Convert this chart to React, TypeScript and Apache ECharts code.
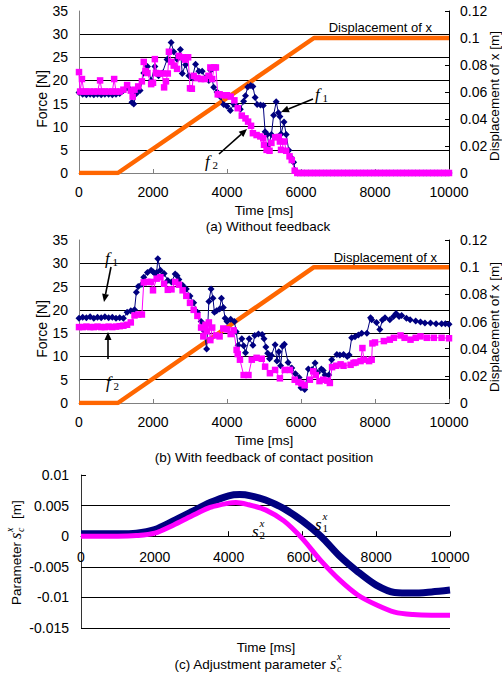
import React, { useEffect, useRef } from "react";
import * as echarts from "echarts";

// ---------- data ----------
// Panel (a): without feedback  [time ms, force N]
const f1A: number[][] = [
  [0, 17.4], [100, 17.0], [200, 16.9], [300, 17.0], [400, 16.9], [500, 17.0], [600, 16.9], [700, 17.0],
  [800, 17.0], [900, 16.9], [1000, 17.0], [1100, 17.2], [1200, 17.8], [1300, 18.6], [1380, 18.0],
  [1430, 15.3], [1480, 14.9], [1550, 17.2], [1650, 17.8], [1750, 21.6], [1850, 23.0], [1950, 20.0],
  [2050, 23.0], [2150, 21.0], [2250, 21.6], [2380, 24.5], [2490, 28.2], [2560, 26.2], [2650, 24.6],
  [2740, 26.7], [2790, 21.5], [2880, 23.4], [2970, 21.0], [3060, 20.5], [3150, 23.5], [3240, 22.0],
  [3330, 22.0], [3420, 20.5], [3510, 20.0], [3560, 22.2], [3640, 18.5], [3730, 17.5], [3820, 16.5],
  [3910, 14.8], [4000, 14.4], [4090, 13.5], [4180, 14.9], [4270, 14.4], [4360, 13.8], [4450, 15.5],
  [4500, 16.7], [4560, 18.6], [4640, 18.9], [4700, 18.7], [4760, 16.3], [4815, 14.8], [4905, 14.7],
  [4980, 14.6], [5030, 8.9], [5090, 8.3], [5130, 6.1], [5200, 8.3], [5260, 12.5], [5330, 15.4],
  [5390, 13.0], [5430, 12.2], [5460, 8.4], [5540, 11.0], [5600, 8.3], [5670, 4.9], [5750, 3.2],
  [5800, 2.3], [5850, 0.5], [5900, 0],
];
const f2A: number[][] = [
  [0, 21.8], [30, 17.6], [80, 20.3], [130, 17.6], [200, 17.6], [300, 17.6], [400, 17.6], [500, 17.6],
  [570, 20.0], [620, 17.6], [700, 17.6], [800, 17.6], [900, 17.6], [950, 20.3], [1000, 17.6],
  [1100, 17.6], [1200, 18.0], [1300, 19.0], [1400, 17.8], [1450, 16.5], [1500, 18.0], [1600, 18.7],
  [1700, 19.8], [1750, 24.0], [1800, 22.0], [1850, 21.6], [1950, 19.2], [2000, 19.5], [2050, 24.6],
  [2080, 21.6], [2150, 21.5], [2250, 21.5], [2300, 18.5], [2350, 19.8], [2400, 21.5], [2430, 26.2],
  [2500, 24.0], [2560, 23.2], [2650, 22.5], [2700, 25.3], [2800, 25.0], [2870, 24.5], [2950, 25.0],
  [3000, 18.3], [3050, 18.2], [3100, 21.0], [3200, 20.5], [3300, 20.3], [3400, 20.3], [3500, 21.0],
  [3550, 22.8], [3600, 20.3], [3650, 22.8], [3700, 22.8], [3750, 17.0], [3800, 17.0], [3900, 16.8],
  [4000, 16.8], [4100, 16.5], [4200, 15.7], [4290, 14.0], [4400, 12.4], [4500, 11.8], [4570, 11.1],
  [4650, 10.2], [4700, 8.6], [4800, 8.2], [4900, 7.9], [4980, 7.5], [5000, 6.1], [5070, 5.0],
  [5150, 4.8], [5200, 6.5], [5300, 7.7], [5400, 7.8], [5430, 6.8], [5460, 5.0], [5550, 6.8],
  [5600, 4.8], [5690, 3.6], [5750, 2.8], [5830, 0.5], [5900, 0],
];
const zeroTailA: number[][] = [
  [6000, 0], [6100, 0], [6200, 0], [6300, 0], [6400, 0], [6500, 0], [6600, 0], [6700, 0], [6800, 0],
  [6900, 0], [7000, 0], [7100, 0], [7200, 0], [7300, 0], [7400, 0], [7500, 0], [7600, 0], [7700, 0],
  [7800, 0], [7900, 0], [8000, 0], [8100, 0], [8200, 0], [8300, 0], [8400, 0], [8500, 0], [8600, 0],
  [8700, 0], [8800, 0], [8900, 0], [9000, 0], [9100, 0], [9200, 0], [9300, 0], [9400, 0], [9500, 0],
  [9600, 0], [9700, 0], [9800, 0], [9900, 0], [10000, 0],
];
// displacement of x [m] (same trajectory in both experiments)
const dispX: number[][] = [[0, 0], [1050, 0], [6350, 0.1], [10000, 0.1]];

// Panel (b): with feedback of contact position
const f1B: number[][] = [
  [0, 18.2], [100, 18.4], [200, 18.3], [300, 18.5], [400, 18.2], [500, 18.4], [600, 18.3], [700, 18.5],
  [800, 18.3], [900, 18.4], [1000, 18.2], [1100, 18.3], [1200, 18.2], [1300, 19.5], [1400, 19.8],
  [1500, 20.0], [1550, 23.8], [1600, 25.0], [1700, 25.5], [1750, 27.0], [1850, 28.0], [1950, 28.5],
  [2000, 28.2], [2050, 27.8], [2100, 28.0], [2130, 31.0], [2200, 28.5], [2300, 27.8], [2400, 26.3],
  [2500, 26.0], [2600, 27.7], [2650, 27.3], [2700, 26.5], [2800, 25.3], [2900, 24.5], [3000, 23.0],
  [3100, 21.5], [3200, 19.5], [3300, 17.5], [3380, 15.5], [3450, 11.6], [3510, 21.8], [3570, 24.5],
  [3620, 22.5], [3660, 19.5], [3720, 19.8], [3800, 20.2], [3850, 22.5], [3900, 20.5], [3950, 18.2],
  [4000, 17.5], [4100, 18.0], [4200, 17.5], [4250, 15.3], [4300, 12.4], [4400, 13.8], [4450, 12.3],
  [4500, 10.8], [4600, 13.8], [4700, 12.4], [4750, 14.5], [4850, 14.8], [4950, 14.7], [5000, 13.8],
  [5050, 12.0], [5100, 10.7], [5150, 9.5], [5200, 10.2], [5300, 12.5], [5350, 9.0], [5400, 11.0],
  [5450, 8.0], [5500, 12.2], [5550, 12.6], [5650, 8.7], [5750, 7.5], [5850, 6.3], [5950, 5.5],
  [6000, 3.3], [6100, 2.9], [6200, 7.3], [6300, 7.2], [6380, 8.6], [6450, 6.5], [6550, 7.3],
  [6600, 7.0], [6650, 6.0], [6750, 6.0], [6830, 9.3], [6970, 10.4], [7050, 10.3], [7150, 10.4],
  [7250, 10.0], [7300, 10.3], [7370, 14.0], [7460, 14.2], [7550, 14.6], [7640, 15.0], [7780, 15.0],
  [7880, 18.3], [7910, 17.9], [8040, 17.3], [8130, 15.8], [8200, 17.8], [8270, 18.3], [8400, 17.9],
  [8500, 18.6], [8570, 19.2], [8650, 18.6], [8720, 18.8], [8850, 18.2], [8950, 17.9], [9100, 17.6],
  [9230, 17.4], [9350, 17.2], [9500, 17.2], [9650, 17.0], [9800, 17.0], [9900, 17.0], [10000, 16.9],
];
const f2B: number[][] = [
  [0, 16.3], [100, 16.3], [200, 16.4], [300, 16.3], [400, 16.3], [500, 16.4], [600, 16.3], [700, 16.3],
  [800, 16.4], [900, 16.3], [1000, 16.4], [1100, 16.5], [1200, 16.6], [1300, 16.8], [1400, 17.3],
  [1500, 18.8], [1600, 19.0], [1700, 19.0], [1750, 25.9], [1850, 26.0], [1950, 26.0], [2000, 24.2],
  [2100, 26.7], [2200, 27.0], [2300, 25.6], [2400, 24.3], [2500, 24.4], [2600, 26.0], [2700, 25.4],
  [2800, 24.2], [2900, 23.0], [3000, 21.5], [3100, 20.0], [3200, 18.7], [3300, 16.2], [3360, 14.3],
  [3420, 16.8], [3450, 15.4], [3510, 17.3], [3550, 13.5], [3600, 16.2], [3700, 14.5], [3800, 14.3],
  [3900, 16.0], [4000, 15.8], [4100, 14.8], [4180, 15.6], [4260, 11.4], [4290, 10.5], [4350, 9.3],
  [4450, 6.0], [4580, 6.0], [4670, 9.3], [4800, 9.7], [4940, 9.5], [5030, 7.8], [5160, 6.4],
  [5300, 7.1], [5430, 5.3], [5560, 7.1], [5700, 7.1], [5830, 5.0], [5930, 4.5], [6010, 4.2],
  [6100, 3.8], [6240, 5.0], [6330, 6.8], [6400, 6.0], [6500, 4.7], [6600, 5.0], [6710, 4.8],
  [6780, 4.3], [6840, 7.7], [6950, 8.0], [7070, 8.3], [7150, 8.0], [7340, 8.2], [7420, 8.6],
  [7475, 8.7], [7610, 9.0], [7660, 11.8], [7700, 9.3], [7840, 9.0], [7910, 9.3], [7930, 12.8],
  [8000, 13.0], [8240, 13.3], [8400, 13.6], [8510, 14.0], [8690, 14.5], [8800, 14.0], [8960, 13.6],
  [9100, 14.0], [9230, 14.3], [9400, 14.0], [9590, 14.0], [9800, 14.0], [10000, 13.9],
];

// Panel (c): adjustment parameter s_c^x [m]
const s1C: number[][] = [
  [0, 0.0004], [500, 0.0004], [1000, 0.0004], [1500, 0.0005], [2000, 0.0011], [2500, 0.0025],
  [3000, 0.004], [3500, 0.0055], [4000, 0.0066], [4300, 0.0068], [4600, 0.0066], [5000, 0.0059],
  [5500, 0.0045], [6000, 0.0025], [6500, 0.0], [7000, -0.0032], [7500, -0.0058], [8000, -0.008],
  [8500, -0.0092], [9000, -0.0093], [9500, -0.0091], [10000, -0.0088],
];
const s2C: number[][] = [
  [0, 0.0], [500, 0.0], [1000, 0.0], [1500, 0.0001], [2000, 0.0005], [2500, 0.0018], [3000, 0.0033],
  [3500, 0.0047], [4000, 0.0054], [4200, 0.0055], [4500, 0.0052], [5000, 0.0043], [5500, 0.0025],
  [6000, -0.0004], [6500, -0.004], [7000, -0.0071], [7500, -0.0096], [8000, -0.0112],
  [8500, -0.0124], [9000, -0.0128], [9500, -0.0129], [10000, -0.0129],
];

// ---------- styles ----------
const SANS = "'Liberation Sans', Arial, Helvetica, sans-serif";
const SERIF = "'Liberation Serif', 'Times New Roman', serif";
const NAVY = "#000080";
const MAGENTA = "#ff00ff";
const ORANGE = "#ff6600";
const LBL = { color: "#000", fontFamily: SANS, fontSize: 14 };
const plain = (v: number) => String(v);

function txt(text: string, x: number, y: number, opts: any = {}) {
  return {
    type: "text",
    x,
    y,
    rotation: opts.rotation || 0,
    z: 100,
    style: {
      text,
      fill: "#000",
      fontFamily: opts.serif ? SERIF : SANS,
      fontStyle: opts.italic ? "italic" : "normal",
      fontSize: opts.size || 13.5,
      align: opts.align || "center",
      verticalAlign: "middle",
    },
  };
}

function arrow(x1: number, y1: number, x2: number, y2: number) {
  const dx = x2 - x1, dy = y2 - y1;
  const L = Math.hypot(dx, dy);
  const ux = dx / L, uy = dy / L;
  const hl = 8, hw = 3.5;
  const bx = x2 - ux * hl, by = y2 - uy * hl;
  const nx = -uy, ny = ux;
  return [
    { type: "line", z: 100, shape: { x1, y1, x2: bx, y2: by }, style: { stroke: "#000", lineWidth: 1.6 } },
    {
      type: "polygon",
      z: 100,
      shape: { points: [[x2, y2], [bx + nx * hw, by + ny * hw], [bx - nx * hw, by - ny * hw]] },
      style: { fill: "#000" },
    },
  ];
}

function subLabel(letter: string, sub: string, x: number, y: number, sup?: string) {
  const els: any[] = [
    txt(letter, x, y, { serif: true, italic: true, size: 17, align: "left" }),
    txt(sub, x + 7.5, y + 4, { serif: true, size: 11, align: "left" }),
  ];
  if (sup) els.push(txt(sup, x + 7.5, y - 8, { serif: true, italic: true, size: 11, align: "left" }));
  return els;
}

function forceX(grid: number) {
  return {
    gridIndex: grid,
    type: "value",
    min: 0,
    max: 10000,
    interval: 2000,
    axisLine: { onZero: false, lineStyle: { color: "#808080", width: 1 } },
    axisTick: { inside: true, length: 4, lineStyle: { color: "#808080" } },
    axisLabel: { ...LBL, margin: 12, formatter: plain },
    splitLine: { show: false },
  };
}
function forceY(grid: number) {
  return {
    gridIndex: grid,
    type: "value",
    min: 0,
    max: 35,
    interval: 5,
    axisLine: { show: true, onZero: false, lineStyle: { color: "#808080" } },
    axisTick: { show: false },
    axisLabel: { ...LBL, margin: 11 },
    splitLine: { show: true, showMinLine: false, showMaxLine: false, lineStyle: { color: "#000", width: 1 } },
  };
}
function dispY(grid: number) {
  return {
    gridIndex: grid,
    type: "value",
    position: "right",
    min: 0,
    max: 0.12,
    interval: 0.02,
    axisLine: { show: true, onZero: false, lineStyle: { color: "#000" } },
    axisTick: { show: true, inside: true, length: 4, lineStyle: { color: "#000" } },
    axisLabel: { ...LBL, margin: 11, formatter: (v: number) => String(+v.toFixed(2)) },
    splitLine: { show: false },
  };
}

function forceSeries(data: number[][], xi: number, yi: number, navy: boolean) {
  return {
    type: "line",
    xAxisIndex: xi,
    yAxisIndex: yi,
    data,
    symbol: navy ? "diamond" : "rect",
    symbolSize: navy ? 7 : 6.5,
    showAllSymbol: true,
    lineStyle: { color: navy ? NAVY : MAGENTA, width: 1 },
    itemStyle: { color: navy ? NAVY : MAGENTA },
    z: navy ? 3 : 4,
  };
}
function dispSeries(xi: number, yi: number) {
  return {
    type: "line",
    xAxisIndex: xi,
    yAxisIndex: yi,
    data: dispX,
    symbol: "none",
    lineStyle: { color: ORANGE, width: 4.5 },
    z: 2,
  };
}

export default function App() {
  const ref = useRef<HTMLDivElement>(null);
  useEffect(() => {
    if (!ref.current) return;
    const chart = echarts.init(ref.current, null, { renderer: "svg" });
    const gridCHeight = 153;
    const option: any = {
      animation: false,
      backgroundColor: "#fff",
      grid: [
        { left: 79, top: 11, width: 370, height: 162 },
        { left: 79, top: 240, width: 370, height: 163 },
        { left: 81, top: 475, width: 369, height: gridCHeight },
      ],
      xAxis: [
        forceX(0),
        forceX(1),
        {
          gridIndex: 2,
          type: "value",
          min: 0,
          max: 10000,
          interval: 2000,
          position: "bottom",
          // the value axis crosses y = 0, which lies 3/5 of the way up the grid
          offset: -gridCHeight * 0.6,
          axisLine: { onZero: false, lineStyle: { color: "#000", width: 1 } },
          axisTick: { inside: true, length: 5, lineStyle: { color: "#000" } },
          axisLabel: { ...LBL, margin: 14, formatter: plain },
          splitLine: { show: false },
        },
      ],
      yAxis: [
        forceY(0),
        dispY(0),
        forceY(1),
        dispY(1),
        {
          gridIndex: 2,
          type: "value",
          min: -0.015,
          max: 0.01,
          interval: 0.005,
          axisLine: { show: true, onZero: false, lineStyle: { color: "#333" } },
          axisTick: { show: true, inside: true, length: 5, lineStyle: { color: "#000" } },
          axisLabel: { ...LBL, margin: 12, formatter: (v: number) => String(+v.toFixed(3)) },
          splitLine: { show: true, showMinLine: true, showMaxLine: false, lineStyle: { color: "#000", width: 1 } },
        },
      ],
      series: [
        dispSeries(0, 1),
        forceSeries(f1A.concat(zeroTailA), 0, 0, true),
        forceSeries(f2A.concat(zeroTailA), 0, 0, false),
        dispSeries(1, 3),
        forceSeries(f1B, 1, 2, true),
        forceSeries(f2B, 1, 2, false),
        {
          type: "line",
          xAxisIndex: 2,
          yAxisIndex: 4,
          data: s1C,
          smooth: 0.3,
          symbol: "none",
          lineStyle: { color: NAVY, width: 7 },
          z: 3,
        },
        {
          type: "line",
          xAxisIndex: 2,
          yAxisIndex: 4,
          data: s2C,
          smooth: 0.3,
          symbol: "none",
          lineStyle: { color: MAGENTA, width: 5 },
          z: 4,
        },
      ],
      graphic: [
        // panel (a)
        txt("Force [N]", 42, 99, { rotation: Math.PI / 2, size: 14 }),
        txt("Displacement of x [m]", 494, 96, { rotation: Math.PI / 2, size: 13.5 }),
        txt("Displacement of x", 432, 27, { align: "right", size: 13 }),
        txt("Time [ms]", 264, 210, { size: 13.5 }),
        txt("(a) Without feedback", 268, 226, { size: 13.5 }),
        ...subLabel("f", "1", 315, 94),
        ...subLabel("f", "2", 205, 161),
        ...arrow(313, 99, 281, 112),
        ...arrow(219, 154, 247, 129),
        // panel (b)
        txt("Force [N]", 42, 329, { rotation: Math.PI / 2, size: 14 }),
        txt("Displacement of x [m]", 494, 327, { rotation: Math.PI / 2, size: 13.5 }),
        txt("Displacement of x", 437, 257, { align: "right", size: 13 }),
        txt("Time [ms]", 264, 440, { size: 13.5 }),
        txt("(b) With feedback of contact position", 264, 457, { size: 13.5 }),
        ...subLabel("f", "1", 105, 258),
        ...subLabel("f", "2", 106, 382),
        ...arrow(111, 267, 104, 302),
        ...arrow(108, 359, 108, 332),
        // panel (c)
        {
          type: "group",
          x: 16,
          y: 605,
          rotation: Math.PI / 2,
          children: [
            txt("Parameter", 0, 0, { align: "left", size: 13.5 }),
            txt("s", 66, -1, { serif: true, italic: true, size: 16, align: "left" }),
            txt("c", 73, 4, { serif: true, italic: true, size: 10, align: "left" }),
            txt("x", 73, -7, { serif: true, italic: true, size: 10, align: "left" }),
            txt("[m]", 86, 0, { align: "left", size: 13.5 }),
          ],
        },
        ...subLabel("s", "1", 315, 524, "x"),
        ...subLabel("s", "2", 252, 531, "x"),
        txt("Time [ms]", 266, 647, { size: 13.5 }),
        txt("(c) Adjustment parameter", 326, 664, { align: "right", size: 13.5 }),
        txt("s", 330, 663, { serif: true, italic: true, size: 16, align: "left" }),
        txt("c", 337, 668, { serif: true, italic: true, size: 10, align: "left" }),
        txt("x", 337, 656, { serif: true, italic: true, size: 10, align: "left" }),
      ],
    };
    chart.setOption(option);
    return () => chart.dispose();
  }, []);
  return (
    <div
      ref={ref}
      style={{ position: "absolute", left: 0, top: 0, width: 502, height: 679, background: "#fff" }}
    />
  );
}
